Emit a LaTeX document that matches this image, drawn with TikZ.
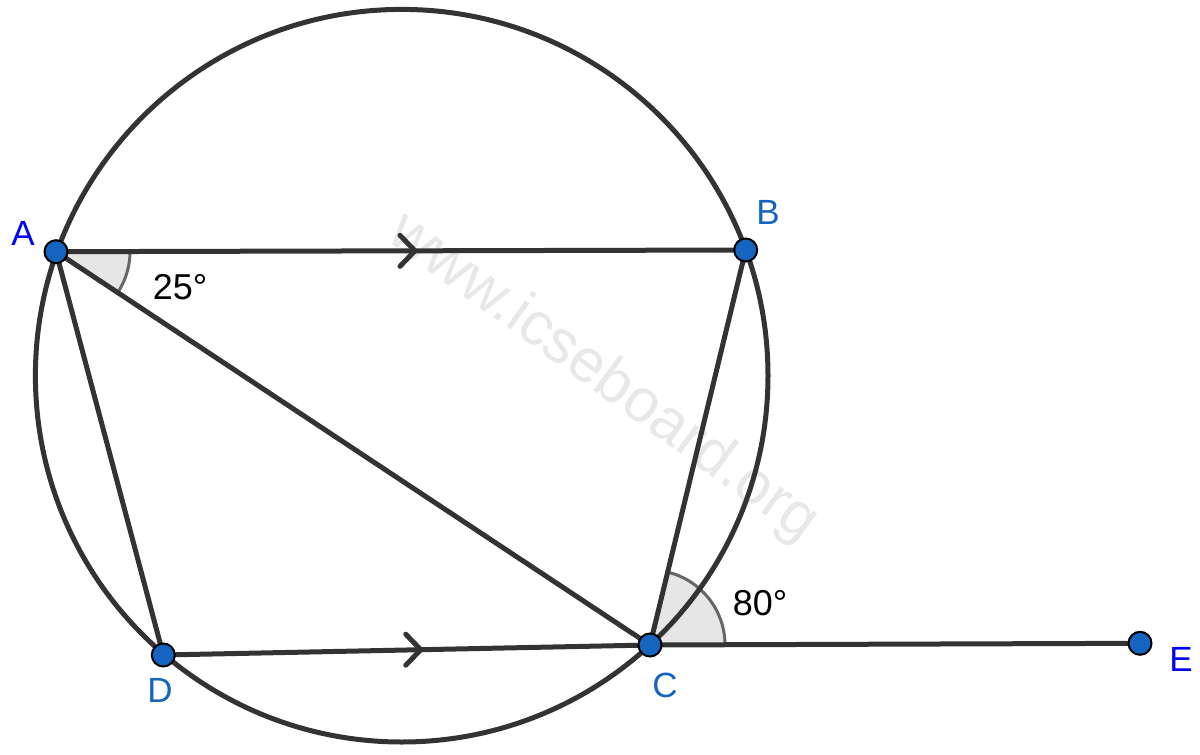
\documentclass[tikz,border=0pt]{standalone}
\usepackage{fontspec}
\setmainfont{Liberation Sans}
\usetikzlibrary{calc}
\definecolor{linegray}{HTML}{333333}
\definecolor{ptblue}{HTML}{1565C0}
\definecolor{lblblue}{HTML}{0000FF}
\definecolor{sectfill}{HTML}{E6E6E6}
\definecolor{arcgray}{HTML}{666666}
\definecolor{wmgray}{HTML}{E8E8E8}
\tikzset{
  seg/.style={draw=linegray, line width=5pt},
  chev/.style={draw=linegray, line width=5pt, line cap=round, line join=round},
  dot/.style={circle, fill=ptblue, draw=black, line width=2pt, minimum size=23pt, inner sep=0pt},
  ptlabel/.style={text=ptblue, font=\fontsize{35}{40}\selectfont, inner sep=0pt},
  ptlabelb/.style={text=lblblue, font=\fontsize{35}{40}\selectfont, inner sep=0pt},
  anglabel/.style={text=black, font=\fontsize{36}{40}\selectfont, inner sep=0pt},
  sector/.style={fill=sectfill},
  sectarc/.style={draw=arcgray, line width=3pt},
  watermark/.style={text=wmgray, font=\fontsize{61}{70}\selectfont, inner sep=0pt}
}
\begin{document}
\begin{tikzpicture}[x=1pt, y=-1pt]
\useasboundingbox (0,0) rectangle (1200,755);
% coordinates
\coordinate (O) at (401.7,375.7);
\coordinate (A) at (56,251.7);
\coordinate (B) at (745.7,250);
\coordinate (C) at (650,645);
\coordinate (D) at (163.3,655);
\coordinate (E) at (1140,643.3);
% watermark
\node[watermark, rotate=-36] (wm) at (603,378) {www.icseboard.org};
% angle sectors
\fill[sector] (A) -- ++(0:74) arc[start angle=0, end angle=33.5, radius=74] -- cycle;
\fill[sector] (C) -- ++(0:75) arc[start angle=0, end angle=-76.4, radius=75] -- cycle;
\draw[sectarc] ($(A)+(0:74)$) arc[start angle=0, end angle=33.5, radius=74];
\draw[sectarc] ($(C)+(0:75)$) arc[start angle=0, end angle=-76.4, radius=75];
% circle
\draw[seg] (O) circle[radius=366.3];
% segments
\draw[seg] (A) -- (B);
\draw[seg] (A) -- (C);
\draw[seg] (A) -- (D);
\draw[seg] (B) -- (C);
\draw[seg] (D) -- (C);
\draw[seg] (C) -- (E);
% parallel marks
\draw[chev] ($(A)!0.5205!(B)$) ++(-15,-15.5) -- ++(15,15.5) -- ++(-15,15.5);
\draw[chev] ($(D)!0.529!(C)$) ++(-15,-15.5) -- ++(15,15.5) -- ++(-15,15.5);
% points
\node[dot] (a) at (A) {};
\node[dot] (b) at (B) {};
\node[dot] (c) at (C) {};
\node[dot] (d) at (D) {};
\node[dot] (e) at (E) {};
% labels
\node[ptlabelb] (la) at (23,233) {A};
\node[ptlabel] (lb) at (768,212) {B};
\node[ptlabel] (lc) at (665,685) {C};
\node[ptlabel] (ld) at (160,690) {D};
\node[ptlabelb] (le) at (1181,659) {E};
\node[anglabel] (l25) at (180,287) {25°};
\node[anglabel] (l80) at (760,603) {80°};
\end{tikzpicture}
\end{document}
